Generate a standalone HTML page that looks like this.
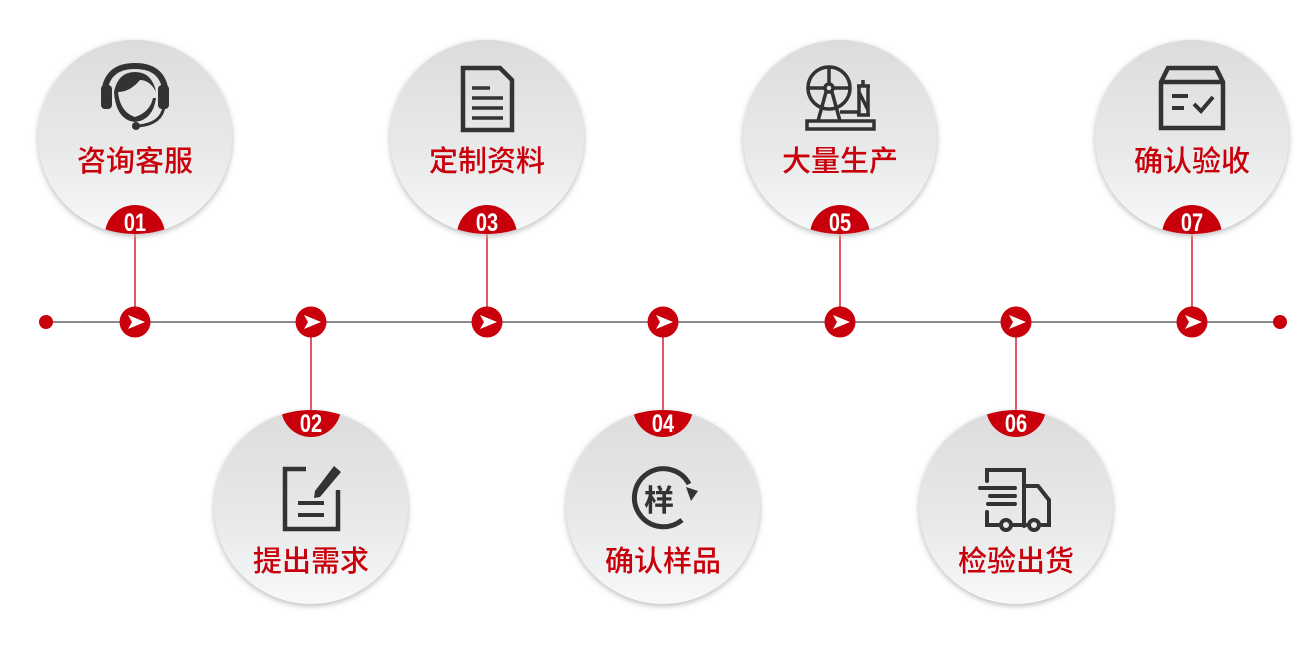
<!DOCTYPE html>
<html><head><meta charset="utf-8"><style>
html,body{margin:0;padding:0;background:#fff;width:1314px;height:648px;overflow:hidden}
text{font-family:"Liberation Sans","Noto Sans CJK SC",sans-serif}
</style></head><body>
<svg width="1314" height="648" viewBox="0 0 1314 648" xmlns="http://www.w3.org/2000/svg">
<defs>
<linearGradient id="g" x1="0" y1="0" x2="0" y2="1">
<stop offset="0" stop-color="#dcdcdc"/><stop offset="0.6" stop-color="#e9eaea"/><stop offset="1" stop-color="#f7f9fa"/>
</linearGradient>
<filter id="sh" x="-20%" y="-20%" width="140%" height="140%"><feGaussianBlur stdDeviation="3"/></filter>
<clipPath id="c1"><circle cx="135" cy="137" r="97"/></clipPath>
<clipPath id="c3"><circle cx="487" cy="137" r="97"/></clipPath>
<clipPath id="c5"><circle cx="840" cy="137" r="97"/></clipPath>
<clipPath id="c7"><circle cx="1192" cy="137" r="97"/></clipPath>
<clipPath id="c2"><circle cx="311" cy="507" r="97"/></clipPath>
<clipPath id="c4"><circle cx="663" cy="507" r="97"/></clipPath>
<clipPath id="c6"><circle cx="1016" cy="507" r="97"/></clipPath>
</defs>
<line x1="46" y1="322" x2="1280" y2="322" stroke="#444" stroke-width="1.2"/>
<g stroke="#c9000b" stroke-width="1.3">
<line x1="135" y1="234" x2="135" y2="322"/><line x1="487" y1="234" x2="487" y2="322"/>
<line x1="840" y1="234" x2="840" y2="322"/><line x1="1192" y1="234" x2="1192" y2="322"/>
<line x1="311" y1="322" x2="311" y2="410"/><line x1="663" y1="322" x2="663" y2="410"/>
<line x1="1016" y1="322" x2="1016" y2="410"/>
</g>
<circle cx="46" cy="322" r="7" fill="#c9000b"/><circle cx="1280" cy="322" r="7" fill="#c9000b"/>
<g fill="#c9000b">
<circle cx="135" cy="322" r="15.5"/><circle cx="311" cy="322" r="15.5"/><circle cx="487" cy="322" r="15.5"/>
<circle cx="663" cy="322" r="15.5"/><circle cx="840" cy="322" r="15.5"/><circle cx="1016" cy="322" r="15.5"/><circle cx="1192" cy="322" r="15.5"/>
</g>
<g fill="#fff">
<path d="M128 315 L145 322 L128 329 L132 322Z"/><path d="M304 315 L321 322 L304 329 L308 322Z"/>
<path d="M480 315 L497 322 L480 329 L484 322Z"/><path d="M656 315 L673 322 L656 329 L660 322Z"/>
<path d="M833 315 L850 322 L833 329 L837 322Z"/><path d="M1009 315 L1026 322 L1009 329 L1013 322Z"/>
<path d="M1185 315 L1202 322 L1185 329 L1189 322Z"/>
</g>
<g fill="#bbb" filter="url(#sh)">
<circle cx="135" cy="139" r="97"/><circle cx="487" cy="139" r="97"/><circle cx="840" cy="139" r="97"/><circle cx="1192" cy="139" r="97"/>
<circle cx="311" cy="509" r="97"/><circle cx="663" cy="509" r="97"/><circle cx="1016" cy="509" r="97"/>
</g>
<g fill="url(#g)">
<circle cx="135" cy="137" r="97"/><circle cx="487" cy="137" r="97"/><circle cx="840" cy="137" r="97"/><circle cx="1192" cy="137" r="97"/>
<circle cx="311" cy="507" r="97"/><circle cx="663" cy="507" r="97"/><circle cx="1016" cy="507" r="97"/>
</g>
<g fill="#c9000b">
<circle cx="135" cy="235" r="30" clip-path="url(#c1)"/><circle cx="487" cy="235" r="30" clip-path="url(#c3)"/>
<circle cx="840" cy="235" r="30" clip-path="url(#c5)"/><circle cx="1192" cy="235" r="30" clip-path="url(#c7)"/>
<circle cx="311" cy="407" r="30" clip-path="url(#c2)"/><circle cx="663" cy="407" r="30" clip-path="url(#c4)"/>
<circle cx="1016" cy="407" r="30" clip-path="url(#c6)"/>
</g>
<g fill="#fff" font-size="25" font-weight="bold" text-anchor="middle">
<text x="135" y="231" transform="translate(135 0) scale(0.8 1) translate(-135 0)">01</text>
<text x="487" y="231" transform="translate(487 0) scale(0.8 1) translate(-487 0)">03</text>
<text x="840" y="231" transform="translate(840 0) scale(0.8 1) translate(-840 0)">05</text>
<text x="1192" y="231" transform="translate(1192 0) scale(0.8 1) translate(-1192 0)">07</text>
<text x="311" y="432" transform="translate(311 0) scale(0.8 1) translate(-311 0)">02</text>
<text x="663" y="432" transform="translate(663 0) scale(0.8 1) translate(-663 0)">04</text>
<text x="1016" y="432" transform="translate(1016 0) scale(0.8 1) translate(-1016 0)">06</text>
</g>
<g fill="#c9000b" font-size="29" font-weight="500" text-anchor="middle">
<text x="135" y="171">咨询客服</text><text x="487" y="171">定制资料</text>
<text x="840" y="171">大量生产</text><text x="1192" y="171">确认验收</text>
<text x="311" y="571">提出需求</text><text x="663" y="571">确认样品</text><text x="1016" y="571">检验出货</text>
</g>
<g fill="#333" stroke="#333">
<path d="M104 98 Q104 66 135 66 Q166 66 166 98" fill="none" stroke-width="6"/>
<rect x="101" y="85" width="11" height="24" rx="4" stroke="none"/>
<rect x="158" y="85" width="11" height="24" rx="4" stroke="none"/>
<path d="M114 92 Q118 72 135 72 Q152 72 156 92 Q150 80 140 80 Q130 92 118 92 Q120 112 135 117 Q150 112 153 98 L156 98 Q153 120 135 122 Q116 120 114 92Z" stroke="none"/>
<path d="M164 106 Q162 124 138 126" fill="none" stroke-width="3"/>
<circle cx="136" cy="126" r="4" stroke="none"/>
<path d="M463 68 L500 68 L512 80 L512 130 L463 130Z" fill="none" stroke-width="4.5"/>
<g stroke-width="3.5"><line x1="472" y1="88" x2="490" y2="88"/><line x1="472" y1="98" x2="503" y2="98"/><line x1="472" y1="108" x2="503" y2="108"/><line x1="472" y1="118" x2="503" y2="118"/></g>
<g fill="none" stroke-width="3.5">
<circle cx="829" cy="88" r="21"/><circle cx="829" cy="88" r="4"/>
<line x1="829" y1="67" x2="829" y2="84"/><line x1="808" y1="88" x2="825" y2="88"/><line x1="833" y1="88" x2="850" y2="88"/>
<path d="M826 92 L818 121 M832 92 L840 121"/>
<rect x="807" y="121" width="67" height="8"/>
<path d="M857 86 L870 86 M859 86 L859 115 M868 86 L868 115 M857 115 L870 115 M859 92 L868 110 M863 80 L863 86"/>
<line x1="840" y1="112" x2="859" y2="112"/>
</g>
<g fill="none" stroke-width="4.5">
<path d="M1161 82 L1168 68 L1216 68 L1223 82 L1223 128 L1161 128Z"/><line x1="1161" y1="82" x2="1223" y2="82"/>
<path d="M1172 96 L1188 96 M1172 108 L1184 108 M1194 104 L1201 111 L1213 97" stroke-width="4"/>
</g>
<g fill="none" stroke-width="4.5">
<path d="M306 469 L285 469 L285 529 L338 529 L338 490"/>
<path d="M298 503 L324 503 M298 515 L324 515" stroke-width="4"/>
</g>
<path d="M334 466 L341 472 L320 497 L314 498 L315 491Z" stroke="none"/>
<path d="M689 484 A29 29 0 1 0 682 520" fill="none" stroke-width="5"/>
<path d="M686 487 L698 491 L691 501Z" stroke="none"/>
<text x="659" y="511" font-size="30" font-weight="bold" text-anchor="middle" stroke="none" fill="#333">样</text>
<g fill="none" stroke-width="4" stroke-linecap="round">
<path d="M987 481 L987 470 L1024 470 L1024 526 M1024 486 L1038 486 L1049 500 L1049 525 L1042 525"/>
<path d="M987 512 L987 525 L998 525 M1014 525 L1026 525"/>
<circle cx="1006" cy="525" r="5"/><circle cx="1034" cy="525" r="5"/>
<path d="M980 488 L1015 488 M990 496 L1015 496 M988 504 L1015 504"/>
</g>
</g>
</svg>
</body></html>
